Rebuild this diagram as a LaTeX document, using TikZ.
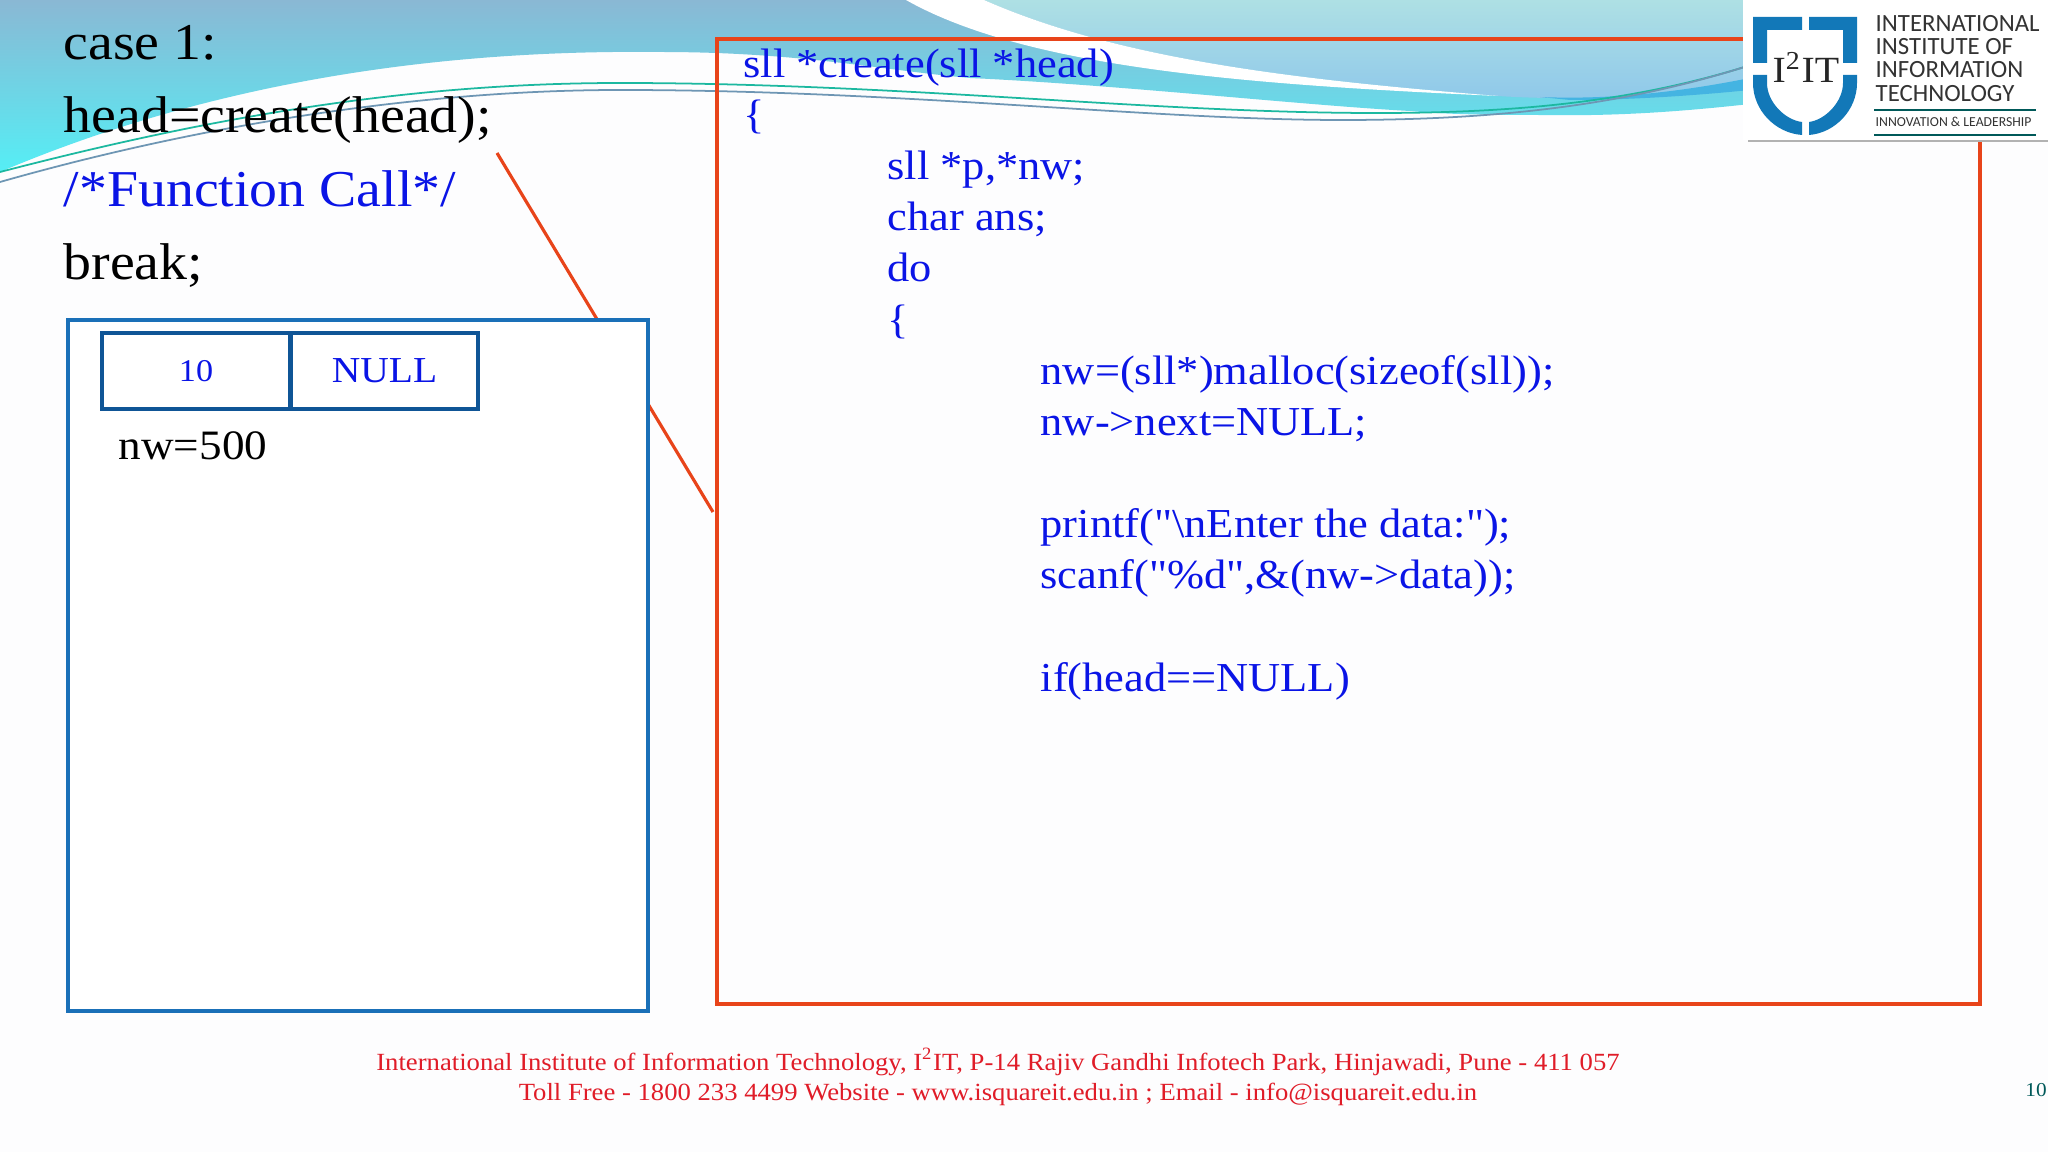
\documentclass[tikz,border=0pt]{standalone}
\usepackage{fontspec}
\setmainfont[FakeStretch=1.08]{Liberation Serif}
\newfontfamily\codefont[FakeStretch=1.08]{Liberation Serif}
\newfontfamily\logofont{Carlito}
\definecolor{codeblue}{HTML}{0A14E6}
\definecolor{callred}{HTML}{E8441A}
\definecolor{boxblue}{HTML}{1A70B8}
\definecolor{cellblue}{HTML}{0F5596}
\definecolor{footred}{HTML}{E01C28}
\definecolor{shieldblue}{HTML}{1278B8}
\definecolor{slidebg}{HTML}{FDFDFE}
\tikzset{
    bigtext/.style={anchor=base west,inner sep=0pt,font=\fontsize{14.7}{16}\selectfont},
    codeline/.style={anchor=base west,inner sep=0pt,text=codeblue,font=\codefont\fontsize{11.7}{14}\selectfont},
    footline/.style={anchor=base,inner sep=0pt,text=footred,font=\fontsize{7.02}{9}\selectfont},
    cellbox/.style={draw=cellblue,line width=1.1pt,fill=white,minimum width=1.875cm,minimum height=.76cm,outer sep=0pt,inner sep=0pt,text=codeblue},
    logoline/.style={anchor=base west,inner sep=0pt,text=black!80,font=\logofont\fontsize{7.05}{8}\selectfont},
}
\begin{document}
\begin{tikzpicture}[x=0.01cm,y=-0.01cm]
    \useasboundingbox (0,0) rectangle (2048,1152);
    \fill[slidebg] (0,0) rectangle (2048,1152);
    % swoosh at the top
    \shade[top color={rgb,255:red,138;green,184;blue,212},middle color={rgb,255:red,122;green,205;blue,225},bottom color={rgb,255:red,85;green,238;blue,245}]
        (0,0) -- (1750,0) -- (1750,104) .. controls (1660,114) and (1600,116) .. (1538,115)
        .. controls (1480,115) and (1440,114) .. (1410,111)
        .. controls (1300,105) and (1120,85) .. (970,78)
        .. controls (880,70) and (800,52) .. (660,52)
        .. controls (480,50) and (240,70) .. (0,172) -- cycle;
    \shade[top color={rgb,255:red,174;green,224;blue,228},bottom color={rgb,255:red,143;green,200;blue,234}]
        (984,0) .. controls (1120,60) and (1300,80) .. (1498,96)
        .. controls (1560,100) and (1650,100) .. (1750,80) -- (1750,0) -- cycle;
    \fill[fill={rgb,255:red,68;green,180;blue,226}]
        (1540,97) .. controls (1610,100) and (1680,92) .. (1750,78) -- (1750,90)
        .. controls (1680,97) and (1620,100) .. (1570,100) -- cycle;
    \fill[white] (906,0) .. controls (1030,70) and (1260,85) .. (1498,96)
        .. controls (1300,80) and (1120,60) .. (984,0) -- cycle;
    \draw[line width=.5pt,color={rgb,255:red,28;green,184;blue,160}]
        (0,172) .. controls (200,120) and (400,83) .. (620,83)
        .. controls (900,83) and (1150,113) .. (1376,113)
        .. controls (1500,113) and (1630,105) .. (1760,62);
    \draw[line width=.5pt,color={rgb,255:red,110;green,150;blue,180}]
        (0,182) .. controls (200,125) and (420,90) .. (620,90)
        .. controls (900,90) and (1150,120) .. (1342,120)
        .. controls (1500,120) and (1630,105) .. (1760,62);
    % callout line, the white box hides its middle
    \coordinate (CallStart) at (497,153);
    \coordinate (CallEnd) at (713,512);
    \draw[callred,line width=.9pt] (CallStart) -- (CallEnd);
    \draw[boxblue,line width=1.1pt,fill=white] (68,320) rectangle (648,1011);
    \draw[callred,line width=.95pt] (717,39) rectangle (1980,1004);
    % left column
    \node[bigtext] (case) at (63,59.5) {case 1:};
    \node[bigtext] (call) at (63,132.5) {head=create(head);};
    \node[bigtext,text=codeblue] (comment) at (63,207) {/*Function Call*/};
    \node[bigtext] (break) at (63,280) {break;};
    \node[cellbox,font=\fontsize{9}{10}\selectfont] (data) at (196,371) {\raisebox{-1pt}{10}};
    \node[cellbox,font=\fontsize{10.4}{14}\selectfont] (next) at (384.5,371) {\raisebox{-.8pt}{NULL}};
    \node[anchor=base west,inner sep=0pt,font=\fontsize{11.9}{14}\selectfont] (nwval) at (118,460) {nw=500};
    % code lines
    \node[codeline] (line1) at (743,77.5) {sll *create(sll *head)};
    \node[codeline] (line2) at (743,128.5) {\{};
    \node[codeline] (line3) at (887,179.5) {sll *p,*nw;};
    \node[codeline] (line4) at (887,230.5) {char ans;};
    \node[codeline] (line5) at (887,282) {do};
    \node[codeline] (line6) at (887,333.5) {\{};
    \node[codeline] (line7) at (1040,384.5) {nw=(sll*)malloc(sizeof(sll));};
    \node[codeline] (line8) at (1040,435.5) {nw->next=NULL;};
    \node[codeline] (line9) at (1040,537.5) {printf("\textbackslash nEnter the data:");};
    \node[codeline] (line10) at (1040,589) {scanf("\%d",\&(nw->data));};
    \node[codeline] (line11) at (1040,691) {if(head==NULL)};
    % footer
    \node[footline] (foot1) at (998,1070) {International Institute of Information Technology, I\textsuperscript{2}IT, P-14 Rajiv Gandhi Infotech Park, Hinjawadi, Pune - 411 057};
    \node[footline] (foot2) at (998,1100) {Toll Free - 1800 233 4499 Website - www.isquareit.edu.in ; Email - info@isquareit.edu.in};
    \node[anchor=base,inner sep=0pt,text=black!30!teal,font=\fontsize{5.6}{6}\selectfont] (pagenum) at (2036,1096) {10};
    % logo
    \fill[white] (1743,0) rectangle (2048,140);
    \fill[black!30] (1748,140) rectangle (2048,142);
    \fill[shieldblue] (1753,17) -- (1802,17) -- (1802,30) -- (1767,30) -- (1767,63) -- (1753,63) -- cycle;
    \fill[shieldblue] (1809,17) -- (1857,17) -- (1857,63) -- (1843,63) -- (1843,30) -- (1809,30) -- cycle;
    \fill[shieldblue] (1753,75) -- (1767,75) -- (1767,83) .. controls (1767,102) and (1785,120) .. (1802,122) -- (1802,135) .. controls (1775,133) and (1753,110) .. (1753,83) -- cycle;
    \fill[shieldblue] (1857,75) -- (1843,75) -- (1843,83) .. controls (1843,102) and (1825,120) .. (1809,122) -- (1809,135) .. controls (1835,133) and (1857,110) .. (1857,83) -- cycle;
    \node[anchor=base,inner sep=0pt,text=black!85,font=\fontsize{10.5}{12}\selectfont] (logomark) at (1806,83) {I\textsuperscript{2}IT};
    \node[logoline] (logo1) at (1875,32) {INTERNATIONAL};
    \node[logoline] (logo2) at (1875,55) {INSTITUTE OF};
    \node[logoline] (logo3) at (1875,78) {INFORMATION};
    \node[logoline] (logo4) at (1875,102) {TECHNOLOGY};
    \draw[line width=.4pt,color=black!30!teal] (1874,110) -- (2036,110);
    \node[logoline,font=\logofont\fontsize{3.9}{5}\selectfont] (logo5) at (1875,127) {INNOVATION \& LEADERSHIP};
    \draw[line width=.4pt,color=black!30!teal] (1874,135) -- (2036,135);
\end{tikzpicture}
\end{document}
